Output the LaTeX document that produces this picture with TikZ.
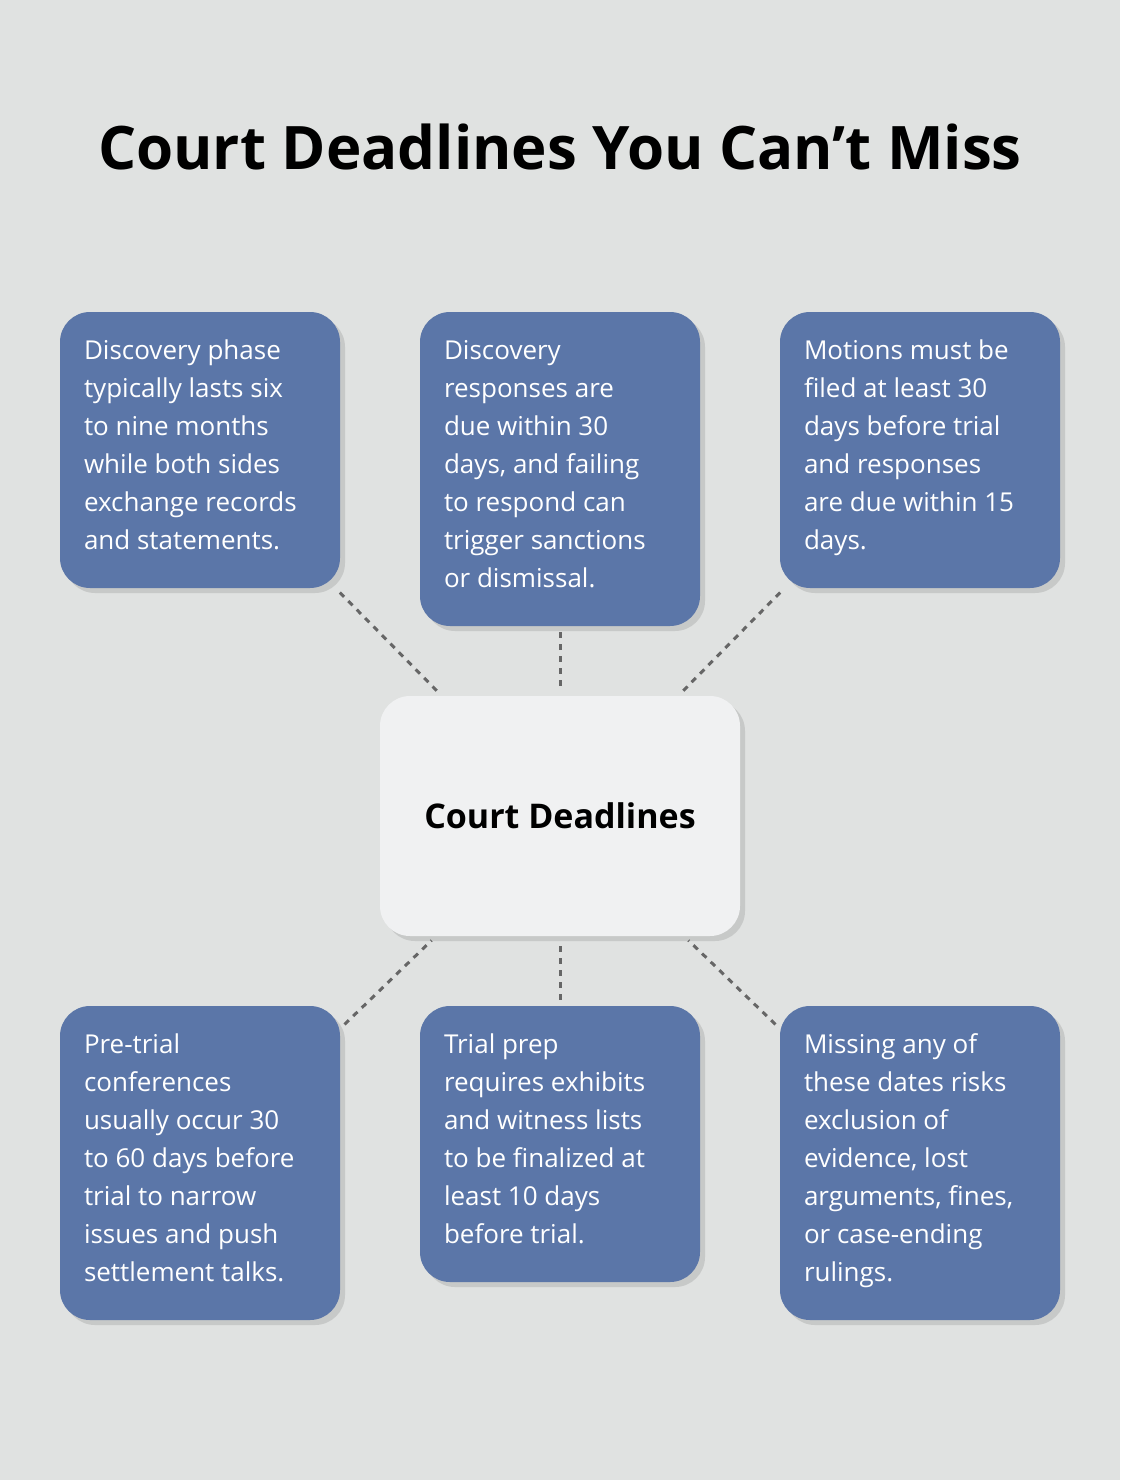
\documentclass[tikz,border=0pt]{standalone}
\usepackage{fontspec}
\setmainfont{Open Sans}
\usetikzlibrary{positioning,shadows,calc}
\definecolor{bgcol}{HTML}{E0E2E1}
\definecolor{boxblue}{HTML}{5B76A8}
\definecolor{centrefill}{HTML}{F0F1F2}
\definecolor{linkgray}{HTML}{666666}
\begin{document}
\begin{tikzpicture}[x=1pt,y=1pt,
    box/.style={draw=none,fill=boxblue,rounded corners=30pt,minimum width=280pt,
      drop shadow={shadow xshift=5pt,shadow yshift=-5pt,opacity=0.25}},
    txt/.style={anchor=north west,inner sep=0pt,text=white,align=left,
      font=\fontsize{26}{38}\selectfont},
    link/.style={draw=linkgray,line width=3pt,dash pattern=on 6pt off 6pt,
      shorten <=6pt,shorten >=6pt}
    ]
    \fill[bgcol] (0,0) rectangle (1120,-1480);
    \useasboundingbox (0,0) rectangle (1120,-1480);

    \node (title) at (560,-147) {\fontsize{60}{70}\selectfont\bfseries Court Deadlines You Can’t Miss};

    % centre
    \node (hub) [box,fill=centrefill,minimum width=360pt,minimum height=240pt] at (560,-816)
      {\fontsize{34}{40}\selectfont\bfseries Court Deadlines};

    % top row
    \node (tl) [box,minimum height=276pt] at (200,-450) {};
    \node (tm) [box,minimum height=314pt] at (560,-469) {};
    \node (tr) [box,minimum height=276pt] at (920,-450) {};
    % bottom row
    \node (bl) [box,minimum height=314pt] at (200,-1163) {};
    \node (bm) [box,minimum height=276pt] at (560,-1144) {};
    \node (br) [box,minimum height=314pt] at (920,-1163) {};

    \node (tltext) [txt] at ([xshift=24pt,yshift=-28pt]tl.north west)
      {Discovery phase\\typically lasts six\\to nine months\\while both sides\\exchange records\\and statements.};
    \node (tmtext) [txt] at ([xshift=24pt,yshift=-28pt]tm.north west)
      {Discovery\\responses are\\due within 30\\days, and failing\\to respond can\\trigger sanctions\\or dismissal.};
    \node (trtext) [txt] at ([xshift=24pt,yshift=-28pt]tr.north west)
      {Motions must be\\filed at least 30\\days before trial\\and responses\\are due within 15\\days.};
    \node (bltext) [txt] at ([xshift=24pt,yshift=-28pt]bl.north west)
      {Pre-trial\\conferences\\usually occur 30\\to 60 days before\\trial to narrow\\issues and push\\settlement talks.};
    \node (bmtext) [txt] at ([xshift=24pt,yshift=-28pt]bm.north west)
      {Trial prep\\requires exhibits\\and witness lists\\to be finalized at\\least 10 days\\before trial.};
    \node (brtext) [txt] at ([xshift=24pt,yshift=-28pt]br.north west)
      {Missing any of\\these dates risks\\exclusion of\\evidence, lost\\arguments, fines,\\or case-ending\\rulings.};

    % the links
    \draw[link] (tl) -- (hub);
    \draw[link] (tm) -- (hub);
    \draw[link] (tr) -- (hub);
    \draw[link] (bl) -- (hub);
    \draw[link] (bm) -- (hub);
    \draw[link] (br) -- (hub);
\end{tikzpicture}
\end{document}
